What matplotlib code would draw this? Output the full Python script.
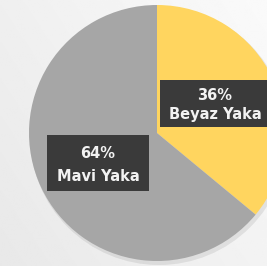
import numpy as np
import matplotlib
matplotlib.use('Agg')
import matplotlib.pyplot as plt
from matplotlib.patches import Rectangle, Circle

# data
labels = ['Beyaz Yaka', 'Mavi Yaka']
shares = [36, 64]
colors = ['#ffd55f', '#a6a6a6']

fig = plt.figure(figsize=(2.67, 2.66), dpi=100)
ax = fig.add_axes([0, 0, 1, 1])
ax.set_xlim(0, 267)
ax.set_ylim(0, 266)
ax.set_aspect('equal')
ax.axis('off')

# soft grey background
grad = np.linspace(0, 1, 256)
gx, gy = np.meshgrid(grad, grad)
bg = 0.91 + 0.07 * (0.6 * gx + 0.4 * gy)
ax.imshow(bg, cmap='gray', vmin=0, vmax=1, extent=(0, 267, 0, 266),
          origin='lower', zorder=0, aspect='auto')

cx, cy, r = 157, 133, 128

# faint shadow
ax.add_patch(Circle((cx + 2, cy - 3), r + 1, facecolor='#000000', alpha=0.08,
                    edgecolor='none', zorder=1))

wedges, _ = ax.pie(shares, colors=colors, startangle=90, counterclock=False,
                   center=(cx, cy), radius=r, frame=True,
                   wedgeprops=dict(edgecolor='none'))
for w in wedges:
    w.set_zorder(2)
ax.set_xlim(0, 267)
ax.set_ylim(0, 266)
ax.axis('off')

# label boxes
boxes = [(160, 139, 110, 47, 215), (47, 75, 102, 56, 98)]
for (x0, y0, w, h, tx), lab, val in zip(boxes, labels, shares):
    ax.add_patch(Rectangle((x0, y0), w, h, facecolor='#3a3a3a',
                           edgecolor='none', zorder=3))
    ax.text(tx, y0 + h * 0.67, f'{val}%', ha='center', va='center',
            color='#f2f2f2', fontsize=10.5, fontweight='bold', zorder=4)
    ax.text(tx, y0 + h * 0.26, lab, ha='center', va='center',
            color='#f2f2f2', fontsize=10.5, fontweight='bold', zorder=4)

fig.savefig('out.png', dpi=100)
